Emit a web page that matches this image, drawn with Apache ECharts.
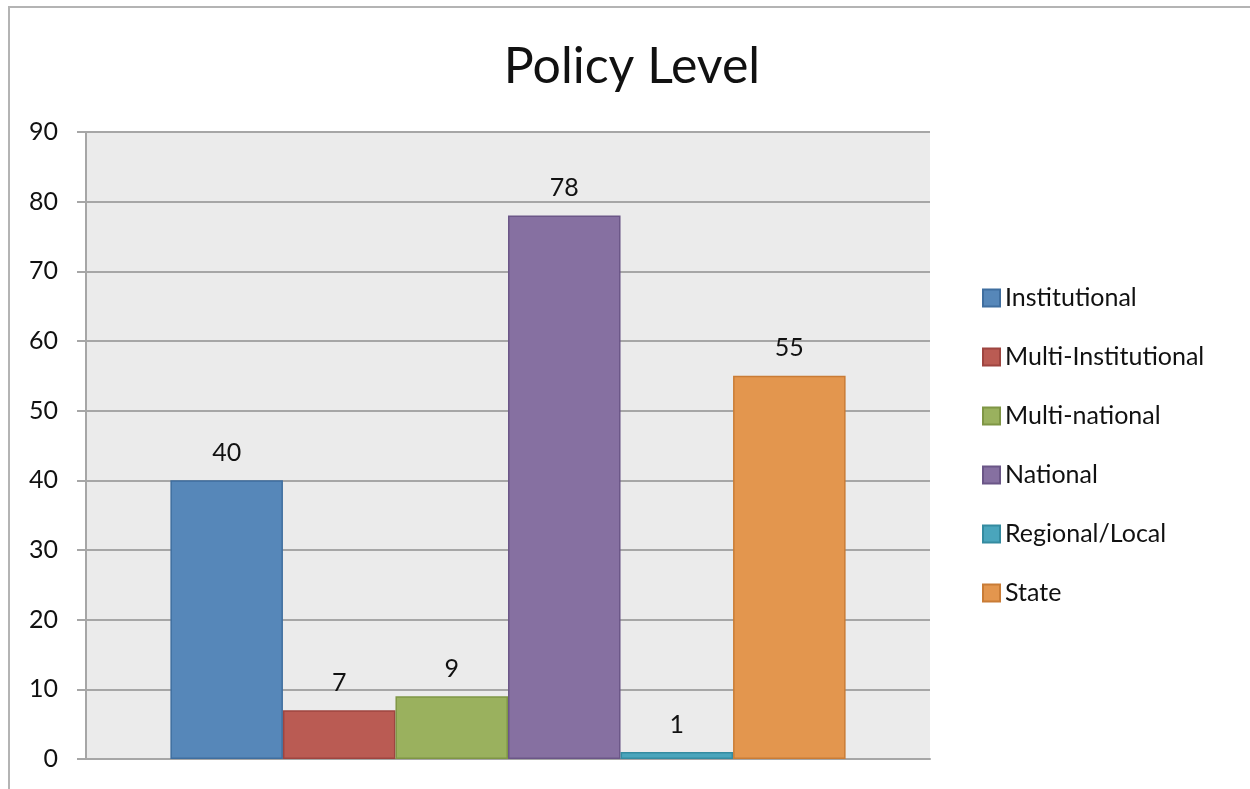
<!DOCTYPE html>
<html>
<head>
<meta charset="utf-8">
<script src="https://cdn.jsdelivr.net/npm/echarts@6/dist/echarts.min.js"></script>
<style>html,body{margin:0;padding:0;background:#fff;}#c{width:1250px;height:789px;}</style>
</head>
<body>
<div id="c"></div>
<script>
const titleText = 'Policy Level';
const categories = [''];
const seriesNames = ['Institutional', 'Multi-Institutional', 'Multi-national', 'National', 'Regional/Local', 'State'];
const seriesValues = [40, 7, 9, 78, 1, 55];
const yTicks = [0, 10, 20, 30, 40, 50, 60, 70, 80, 90];
const fills = ['#5687B9', '#BA5B53', '#9AB15E', '#8670A1', '#4AA5BC', '#E3964E'];
const borders = ['#3F6E9F', '#9E4540', '#7F9645', '#6B5687', '#348BA0', '#C97C36'];

const chart = echarts.init(document.getElementById('c'));
const FONT = 'Lato';
chart.setOption({
  animation: false,
  graphic: [{
    type: 'rect', shape: {x: 9, y: 7, width: 1300, height: 900},
    style: {fill: 'none', stroke: '#B4B4B4', lineWidth: 2}, silent: true, z: -10
  }],
  title: {
    text: titleText, left: 627, top: 37, textAlign: 'center',
    textStyle: {fontFamily: FONT, fontSize: 50, fontWeight: 'normal', color: '#111'}
  },
  legend: {
    orient: 'vertical', left: 977, top: 280, itemWidth: 17, itemHeight: 17, itemGap: 33,
    icon: 'rect',
    textStyle: {fontFamily: FONT, fontSize: 25, color: '#111', lineHeight: 26, padding: [0, 0, 0, 0]},
    data: seriesNames
  },
  grid: {left: 86, right: 320, top: 132, bottom: 30, show: true, backgroundColor: '#EBEBEB', borderWidth: 0},
  xAxis: {
    type: 'category', data: categories,
    axisLine: {show: true, lineStyle: {color: '#A6A6A6', width: 2}},
    axisTick: {show: false}, axisLabel: {show: false}
  },
  yAxis: {
    type: 'value', min: yTicks[0], max: yTicks[yTicks.length - 1], interval: 10,
    axisLine: {show: true, lineStyle: {color: '#A6A6A6', width: 2}},
    axisTick: {show: true, length: 9, lineStyle: {color: '#A6A6A6', width: 2}},
    axisLabel: {fontFamily: FONT, fontSize: 25, color: '#111', margin: 28},
    splitLine: {show: true, lineStyle: {color: '#A6A6A6', width: 2}}
  },
  series: seriesNames.map((n, i) => ({
    name: n, type: 'bar', data: [seriesValues[i]],
    barGap: '0%', barCategoryGap: '20%',
    itemStyle: {color: fills[i], borderColor: borders[i], borderWidth: 1.5},
    label: {show: true, position: 'top', distance: 15, fontFamily: FONT, fontSize: 25, color: '#111'}
  }))
});
</script>
</body>
</html>
